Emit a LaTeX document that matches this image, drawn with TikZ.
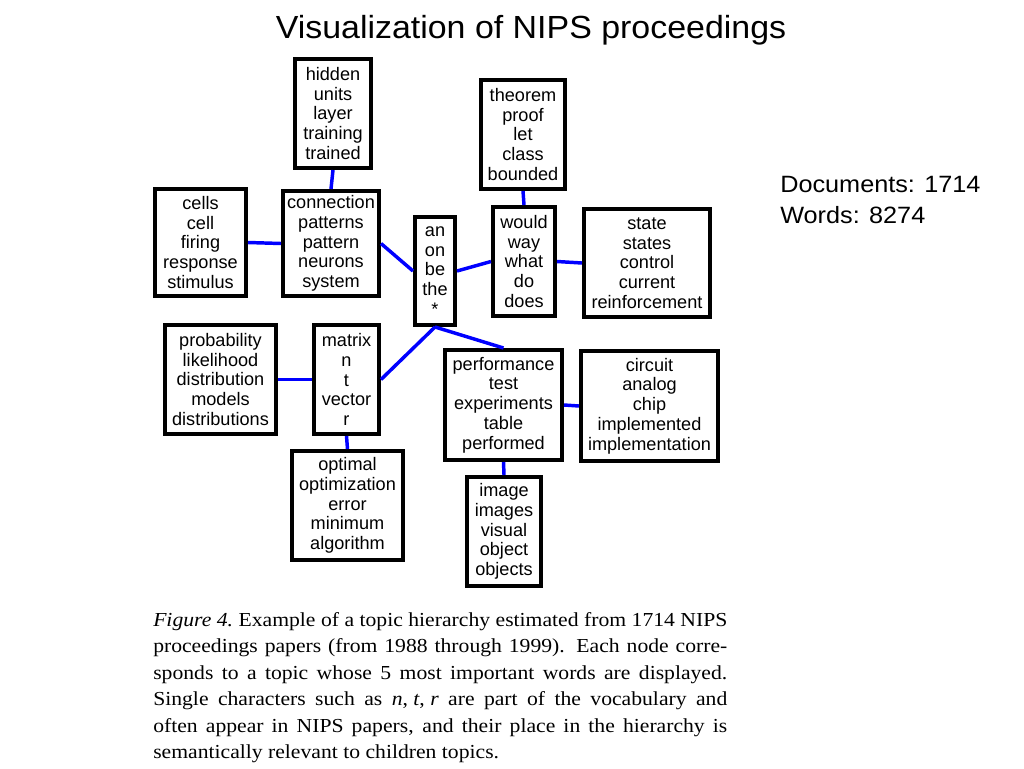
\documentclass[tikz,border=0pt]{standalone}
\usepackage{fontspec}
\setmainfont{Liberation Sans}
\newfontfamily\capfont{Liberation Serif}
\newcommand{\boxlines}[5]{#1\\#2\\#3\\#4\\#5}
\newcommand{\boxfont}{\fontsize{13.6pt}{14.8pt}\selectfont}
\newcommand{\capline}[1]{\scalebox{1.09}[1]{\makebox[395pt][s]{#1}}}
\tikzset{
  tbox/.style 2 args={draw=black, line width=3.3pt, fill=white, inner sep=0pt, align=center,
    font=\boxfont, minimum width=#1*0.75pt-3.3pt, minimum height=#2*0.75pt-3.3pt},
  link/.style={draw=blue, line width=2.6pt},
  capnode/.style={anchor=base west, inner sep=0pt, font=\capfont\fontsize{14.9pt}{19pt}\selectfont},
}
\begin{document}
\begin{tikzpicture}[x=0.75pt,y=-0.75pt]
\useasboundingbox[fill=white] (0,0) rectangle (1024,768);

\node[anchor=base, inner sep=0pt, font=\fontsize{24pt}{28pt}\selectfont] (title) at (531,38)
  {\scalebox{1.06}[1]{Visualization of NIPS proceedings}};
\node[anchor=base west, inner sep=0pt, font=\fontsize{17.7pt}{22pt}\selectfont] (docs) at (780,192)
  {\scalebox{1.07}[1]{Documents: 1714}};
\node[anchor=base west, inner sep=0pt, font=\fontsize{17.7pt}{22pt}\selectfont] (words) at (780,223)
  {\scalebox{1.07}[1]{Words: 8274}};

\node[tbox={80}{113}] (hidden) at (333,113.5) {\boxlines{hidden}{units}{layer}{training}{trained}};
\node[tbox={95}{111}] (cells) at (200.5,242.5) {\boxlines{cells}{cell}{firing}{response}{stimulus}};
\node[tbox={100}{109}] (connection) at (331,243.5) {\boxlines{connection}{patterns}{pattern}{neurons}{system}};
\node[tbox={44}{112}] (an) at (435,271) {\boxlines{an}{on}{be}{the}{*}};
\node[tbox={88}{113}] (theorem) at (523,134.5) {\boxlines{theorem}{proof}{let}{class}{bounded}};
\node[tbox={66}{113}] (would) at (524,261.5) {\boxlines{would}{way}{what}{do}{does}};
\node[tbox={130}{112}] (state) at (647,263) {\boxlines{state}{states}{control}{current}{reinforcement}};
\node[tbox={115}{113}] (probability) at (220.5,379.5) {\boxlines{probability}{likelihood}{distribution}{models}{distributions}};
\node[tbox={69}{113}] (matrix) at (346.5,379.5) {\boxlines{matrix}{n}{t}{vector}{r}};
\node[tbox={115}{113}] (optimal) at (347.5,505.5) {\boxlines{optimal}{optimization}{error}{minimum}{algorithm}};
\node[tbox={121}{114}] (performance) at (503.5,405) {\boxlines{performance}{test}{experiments}{table}{performed}};
\node[tbox={141}{114}] (circuit) at (649.5,406) {\boxlines{circuit}{analog}{chip}{implemented}{implementation}};
\node[tbox={78}{113}] (image) at (504,531.5) {\boxlines{image}{images}{visual}{object}{objects}};

\draw[link] (hidden.south) -- (connection.north);
\draw[link] (cells.east) -- (connection.west);
\draw[link] (connection.east) -- (an.west);
\draw[link] (an.east) -- (would.west);
\draw[link] (theorem.south) -- (would.north);
\draw[link] (would.east) -- (state.west);
\draw[link] (an.south) -- (matrix.east);
\draw[link] (an.south) -- (performance.north);
\draw[link] (probability.east) -- (matrix.west);
\draw[link] (matrix.south) -- (optimal.north);
\draw[link] (performance.east) -- (circuit.west);
\draw[link] (performance.south) -- (image.north);

\node[capnode] (cap1) at (153,626) {\capline{\textit{Figure 4.}\ Example of a topic hierarchy estimated from 1714 NIPS}};
\node[capnode] (cap2) at (153,652.5) {\capline{proceedings papers (from 1988 through 1999). Each node corre-}};
\node[capnode] (cap3) at (153,679) {\capline{sponds to a topic whose 5 most important words are displayed.}};
\node[capnode] (cap4) at (153,705.5) {\capline{Single characters such as \textit{n},\kern0.25em\textit{t},\kern0.25em\textit{r} are part of the vocabulary and}};
\node[capnode] (cap5) at (153,732) {\capline{often appear in NIPS papers, and their place in the hierarchy is}};
\node[capnode] (cap6) at (153,758.5) {\scalebox{1.09}[1]{semantically relevant to children topics.}};
\end{tikzpicture}
\end{document}
